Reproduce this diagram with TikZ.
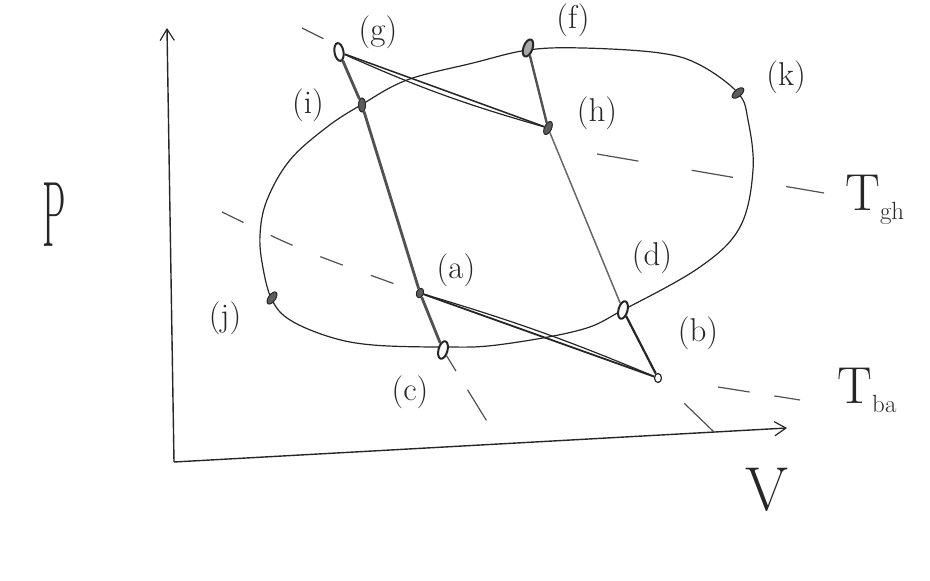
\documentclass[tikz,border=0pt]{standalone}
\usepackage{tikz}
\usetikzlibrary{arrows.meta,positioning,shapes.geometric}
\definecolor{pencil}{HTML}{262626}
\tikzset{
  >={Straight Barb[length=4mm,width=5mm,line width=1.2pt]},
  paxis/.style={pencil, line width=1.4pt},
  pcurve/.style={pencil, line width=1.2pt},
  padia/.style={pencil!80, line width=2.8pt},
  pline/.style={pencil, line width=1.5pt},
  pthin/.style={pencil!70, line width=1.5pt},
  piso/.style={pencil!80, line width=1.2pt, dash pattern=on 24pt off 30pt},
  pstate/.style={ellipse, draw=pencil, fill=pencil!75, line width=1pt,
                 minimum width=7pt, minimum height=14pt, inner sep=0pt},
  pring/.style={ellipse, draw=pencil, fill=white, line width=2pt,
                minimum width=9pt, minimum height=18pt, inner sep=0pt},
  plbl/.style={pencil, font=\fontsize{33}{36}\selectfont, inner sep=0pt},
  ptemp/.style={pencil, font=\fontsize{52}{56}\selectfont, inner sep=0pt},
  paxlbl/.style={pencil, font=\fontsize{62}{66}\selectfont, inner sep=0pt},
}
\begin{document}
\begin{tikzpicture}[x=1pt,y=-1pt]
  \useasboundingbox (0,0) rectangle (930,581);

  % axes
  \coordinate (o) at (174,462);
  \coordinate (ptop) at (167,28);
  \coordinate (vend) at (787,428);
  \draw[paxis,->] (o) -- (ptop);
  \draw[paxis,->] (o) -- (vend);
  \node[paxlbl] (plab) at (54,215) {\scalebox{0.6}[1.5]{P}};
  \node[paxlbl] (vlab) at (767,490) {V};

  % closed curve
  \draw[pcurve] plot[smooth cycle, tension=0.6] coordinates {
    (361,105) (327,127) (290,160) (267,200) (260,235) (263,268) (272,300)
    (290,320) (330,337) (373,345) (443,347) (497,345) (580,330) (623,310)
    (700,267) (740,227) (753,170) (748,120) (738,93) (700,65) (660,53)
    (583,48) (528,50) (473,63) (407,80)};

  % states
  \node[pring,  rotate=10]  (g) at (339,52)  {};
  \node[pstate]             (i) at (362,105) {};
  \node[pring,  rotate=-20, fill=pencil!40] (f) at (528,48) {};
  \node[pstate, rotate=-25] (h) at (548,128) {};
  \node[pstate, rotate=-50] (k) at (738,93)  {};
  \node[pstate, rotate=-35] (j) at (272,298) {};
  \node[pstate, rotate=-20, minimum height=10pt] (a) at (420,293) {};
  \node[pring,  rotate=-15] (c) at (443,350) {};
  \node[pring,  rotate=-15] (d) at (623,310) {};
  \node[pring, minimum width=7pt, minimum height=9pt, line width=1.2pt] (b) at (658,378) {};

  % adiabats
  \draw[padia] (g) -- (i) -- (a) -- (c);
  \draw[padia, line width=2.4pt] (f) -- (h);
  \draw[pthin] (h) -- (d);
  \draw[pline, line width=2.2pt] (d) -- (b);

  % isotherm pieces
  \draw[pline] (g) -- (h);
  \draw[pcurve] (g) to[bend right=4] (h);
  \draw[pline, line width=1.8pt] (a) -- (b);
  \draw[pcurve] (a) to[bend left=3] (b);

  % dashed continuations
  \coordinate (gh0) at (302,28);
  \coordinate (gh3) at (324,39);
  \coordinate (gh1) at (597,154);
  \coordinate (gh2) at (824,193);
  \coordinate (ba0) at (222,212);
  \coordinate (ba1) at (718,387);
  \coordinate (ba2) at (800,400);
  \coordinate (cx) at (488,423);
  \coordinate (bx) at (714,432);
  \draw[piso] (gh0) -- (gh3);
  \draw[piso, dash pattern=on 42pt off 54pt] (gh1) -- (gh2);
  \draw[piso] (ba0) .. controls (300,250) .. (a);
  \draw[piso, dash pattern=on 32pt off 25pt] (ba1) -- (ba2);
  \draw[piso, dash pattern=on 18pt off 22pt on 36pt off 10pt] (c) -- (cx);
  \draw[piso, dash pattern=on 0pt off 32pt on 45pt off 10pt] (b) -- (bx);

  % labels
  \node[plbl] (glab) at (378,32)  {(g)};
  \node[plbl] (ilab) at (308,105) {(i)};
  \node[plbl] (flab) at (573,20)  {(f)};
  \node[plbl] (hlab) at (597,113) {(h)};
  \node[plbl] (klab) at (786,77)  {(k)};
  \node[plbl] (alab) at (456,270) {(a)};
  \node[plbl] (clab) at (410,392) {(c)};
  \node[plbl] (jlab) at (225,318) {(j)};
  \node[plbl] (dlab) at (652,257) {(d)};
  \node[plbl] (blab) at (698,333) {(b)};
  \node[ptemp] (tgh) at (875,200) {T$_{\mathrm{gh}}$};
  \node[ptemp] (tba) at (867,390) {T$_{\mathrm{ba}}$};

\end{tikzpicture}
\end{document}
